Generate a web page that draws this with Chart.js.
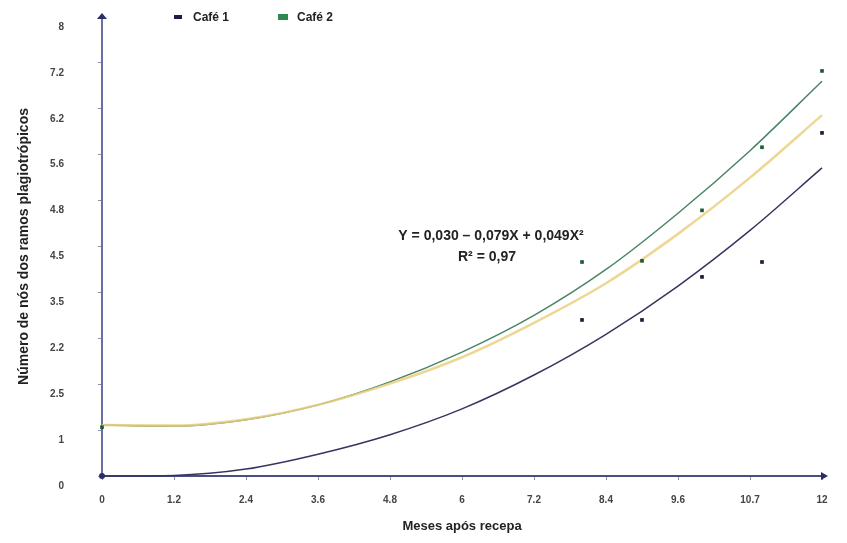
<!DOCTYPE html>
<html>
<head>
<meta charset="utf-8">
<script src="https://cdn.jsdelivr.net/npm/chart.js@4.4.1/dist/chart.umd.min.js"></script>
<style>
  html, body { margin: 0; padding: 0; background: #fff; }
  #wrap { width: 847px; height: 543px; position: relative; }
</style>
</head>
<body>
<div id="wrap"><canvas id="chart1"></canvas></div>
<script>
// axis ticks, as printed on the figure
const xTickValues = [0, 1.2, 2.4, 3.6, 4.8, 6, 7.2, 8.4, 9.6, 10.8, 12];
const xTickLabels = ["0", "1.2", "2.4", "3.6", "4.8", "6", "7.2", "8.4", "9.6", "10.7", "12"];
const yTickValues = [0, 0.8, 1.6, 2.4, 3.2, 4, 4.8, 5.6, 6.4, 7.2, 8];
const yTickLabels = ["0", "1", "2.5", "2.2", "3.5", "4.5", "4.8", "5.6", "6.2", "7.2", "8"];

// observed points
const months = [0, 8, 9, 10, 11, 12];
const cafe1 = [0, 2.72, 2.72, 3.47, 3.73, 5.98];
const cafe2 = [0.85, 3.73, 3.75, 4.63, 5.73, 7.06];

// fitted curves at the x ticks
const curveX = [0, 1.2, 2.4, 3.6, 4.8, 6, 7.2, 8.4, 9.6, 10.8, 12];
const fitCafe1 = [0, 0.01, 0.12, 0.38, 0.72, 1.17, 1.76, 2.47, 3.31, 4.28, 5.37];
const fitCafe2 = [0.89, 0.87, 0.98, 1.24, 1.64, 2.16, 2.8, 3.6, 4.58, 5.67, 6.88];
const fitMean = [0.89, 0.88, 0.99, 1.24, 1.61, 2.07, 2.67, 3.36, 4.22, 5.2, 6.29];

const equation = ["Y = 0,030 – 0,079X + 0,049X²", "R² = 0,97"];

function pts(xs, ys) {
  return xs.map((x, i) => ({ x: x, y: ys[i] }));
}

const extras = {
  id: "extras",
  afterDraw(chart) {
    const ctx = chart.ctx;
    const xs = chart.scales.x;
    const ys = chart.scales.y;
    const x0 = xs.getPixelForValue(0);
    const y0 = ys.getPixelForValue(0);
    const yTop = ys.getPixelForValue(8);
    const xEnd = xs.getPixelForValue(12);
    ctx.save();
    // arrow heads
    ctx.fillStyle = "#2a2e6a";
    ctx.beginPath();
    ctx.moveTo(x0, yTop - 4);
    ctx.lineTo(x0 - 5, yTop + 2);
    ctx.lineTo(x0 + 5, yTop + 2);
    ctx.closePath();
    ctx.fill();
    ctx.beginPath();
    ctx.moveTo(xEnd + 6, y0);
    ctx.lineTo(xEnd - 1, y0 - 4);
    ctx.lineTo(xEnd - 1, y0 + 4);
    ctx.closePath();
    ctx.fill();
    ctx.beginPath();
    ctx.arc(x0, y0, 3, 0, Math.PI * 2);
    ctx.fill();

    // legend
    ctx.font = "bold 12px 'Liberation Sans', Arial, sans-serif";
    ctx.textBaseline = "middle";
    ctx.fillStyle = "#1c1c44";
    ctx.fillRect(174, 15, 8, 4);
    ctx.fillStyle = "#222";
    ctx.fillText("Café 1", 193, 18);
    ctx.fillStyle = "#2e8a4c";
    ctx.fillRect(278, 14, 10, 6);
    ctx.fillStyle = "#222";
    ctx.fillText("Café 2", 297, 18);

    // equation
    ctx.font = "bold 14px 'Liberation Sans', Arial, sans-serif";
    ctx.textAlign = "center";
    ctx.fillText(equation[0], 491, 236);
    ctx.fillText(equation[1], 487, 257);
    ctx.restore();
  }
};

const ctx = document.getElementById("chart1").getContext("2d");
new Chart(ctx, {
  type: "scatter",
  data: {
    datasets: [
      {
        label: "Café 1",
        data: pts(months, cafe1),
        pointStyle: "rect",
        pointRadius: 2.6,
        backgroundColor: "#1c1c3c",
        borderColor: "#1c1c3c",
        borderWidth: 0,
        order: 0,
        clip: false,
      },
      {
        label: "Café 2",
        data: pts(months, cafe2),
        pointStyle: "rect",
        pointRadius: 2.6,
        backgroundColor: "#1f5b35",
        borderColor: "#1f5b35",
        borderWidth: 0,
        order: 0,
        clip: false,
      },
      {
        label: "Média",
        data: pts(curveX, fitMean),
        showLine: true,
        pointRadius: 0,
        borderColor: "rgba(234, 208, 128, 0.85)",
        borderWidth: 2.5,
        cubicInterpolationMode: "monotone",
        order: 1,
        clip: false,
      },
      {
        label: "Ajuste Café 2",
        data: pts(curveX, fitCafe2),
        showLine: true,
        pointRadius: 0,
        borderColor: "#4a8565",
        borderWidth: 1.5,
        cubicInterpolationMode: "monotone",
        order: 2,
        clip: false,
      },
      {
        label: "Ajuste Café 1",
        data: pts(curveX, fitCafe1),
        showLine: true,
        pointRadius: 0,
        borderColor: "#34365e",
        borderWidth: 1.5,
        cubicInterpolationMode: "monotone",
        order: 3,
        clip: false,
      },
    ],
  },
  options: {
    responsive: true,
    maintainAspectRatio: false,
    animation: false,
    layout: { padding: { left: 10, right: 25, top: 17, bottom: 3 } },
    plugins: {
      legend: { display: false },
      tooltip: { enabled: false },
    },
    scales: {
      x: {
        type: "linear",
        min: 0,
        max: 12,
        afterBuildTicks: (s) => { s.ticks = xTickValues.map((v) => ({ value: v })); },
        afterFit: (s) => { s.height = 64; s.paddingLeft = 0; s.paddingRight = 0; },
        border: { display: true, color: "#4a4f80", width: 2 },
        grid: { drawOnChartArea: false, drawTicks: true, tickLength: 4, color: "#8a8fb0" },
        ticks: {
          padding: 14,
          color: "#444",
          font: { family: "'Liberation Sans', Arial, sans-serif", size: 10, weight: "bold" },
          callback: (v, i) => xTickLabels[i],
        },
        title: {
          display: true,
          text: "Meses após recepa",
          color: "#222",
          padding: { top: 4, bottom: 6 },
          font: { family: "'Liberation Sans', Arial, sans-serif", size: 13, weight: "bold" },
        },
      },
      y: {
        type: "linear",
        min: 0,
        max: 8,
        afterBuildTicks: (s) => { s.ticks = yTickValues.map((v) => ({ value: v })); },
        afterFit: (s) => { s.width = 92; s.paddingTop = 0; s.paddingBottom = 0; },
        border: { display: true, color: "#6a6ea0", width: 2 },
        grid: { drawOnChartArea: false, drawTicks: true, tickLength: 4, color: "#8a8fb0" },
        ticks: {
          padding: 34,
          labelOffset: 10,
          color: "#444",
          font: { family: "'Liberation Sans', Arial, sans-serif", size: 10, weight: "bold" },
          callback: (v, i) => yTickLabels[i],
        },
        title: {
          display: true,
          text: "Número de nós dos ramos plagiotrópicos",
          color: "#222",
          padding: { top: 6, bottom: 4 },
          font: { family: "'Liberation Sans', Arial, sans-serif", size: 14, weight: "bold" },
        },
      },
    },
  },
  plugins: [extras],
});
</script>
</body>
</html>
